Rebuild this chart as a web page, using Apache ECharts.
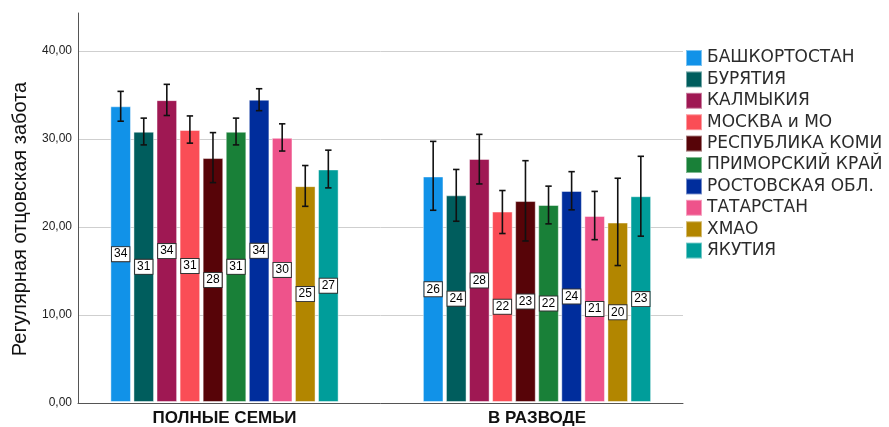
<!DOCTYPE html>
<html>
<head>
<meta charset="utf-8">
<script src="https://cdn.jsdelivr.net/npm/echarts@6/dist/echarts.min.js"></script>
<style>html,body{margin:0;padding:0;background:#fff;}#c{width:889px;height:427px;}</style>
</head>
<body>
<div id="c"></div>
<script>
var categories = ['ПОЛНЫЕ СЕМЬИ', 'В РАЗВОДЕ'];
var regions = ['БАШКОРТОСТАН', 'БУРЯТИЯ', 'КАЛМЫКИЯ', 'МОСКВА и МО', 'РЕСПУБЛИКА КОМИ', 'ПРИМОРСКИЙ КРАЙ', 'РОСТОВСКАЯ ОБЛ.', 'ТАТАРСТАН', 'ХМАО', 'ЯКУТИЯ'];
var colors = ['#1192e8', '#005d5d', '#9f1853', '#fa4d56', '#570408', '#198038', '#002d9c', '#ee538b', '#b28600', '#009d9a'];
var meanFull = [33.7, 30.8, 34.4, 31.0, 27.8, 30.8, 34.45, 30.1, 24.6, 26.5];
var meanDiv  = [25.7, 23.55, 27.7, 21.7, 22.9, 22.45, 24.05, 21.2, 20.45, 23.45];
var lowFull  = [32.0, 29.3, 32.65, 29.5, 25.0, 29.3, 33.2, 28.6, 22.3, 24.4];
var highFull = [35.4, 32.35, 36.2, 32.6, 30.7, 32.35, 35.7, 31.7, 26.95, 28.7];
var lowDiv   = [21.85, 20.6, 24.85, 19.2, 18.35, 20.3, 21.9, 18.5, 15.55, 18.9];
var highDiv  = [29.7, 26.5, 30.5, 24.1, 27.5, 24.6, 26.25, 24.0, 25.5, 28.0];
var yTicks = [0, 10, 20, 30, 40];

var BAR_W = 20.6, GAP = 0.12;
var n = regions.length;
var pitch = BAR_W * (1 + GAP);

var series = [];
regions.forEach(function (name, k) {
  series.push({
    name: name,
    type: 'bar',
    xAxisIndex: 0, yAxisIndex: 0,
    barWidth: BAR_W,
    barGap: (GAP * 100) + '%',
    itemStyle: { color: colors[k], borderColor: 'rgba(255,255,255,0.45)', borderWidth: 1 },
    label: {
      show: true, position: 'inside',
      formatter: function (p) { return String(Math.round(p.value)); },
      backgroundColor: '#ffffff', borderColor: '#333333', borderWidth: 1,
      padding: [1, 2, 1, 2], fontSize: 12, color: '#000',
      fontFamily: 'Liberation Sans, Arial, sans-serif'
    },
    data: [meanFull[k], meanDiv[k]],
    z: 2
  });
});
regions.forEach(function (name, k) {
  series.push({
    name: 'err_' + name,
    type: 'custom',
    xAxisIndex: 0, yAxisIndex: 0,
    z: 5,
    silent: true,
    data: [[0, lowFull[k], highFull[k]], [1, lowDiv[k], highDiv[k]]],
    renderItem: function (params, api) {
      var cat = api.value(0);
      var off = (k - (n - 1) / 2) * pitch;
      var x = api.coord([cat, 0])[0] + off;
      var yl = api.coord([cat, api.value(1)])[1];
      var yh = api.coord([cat, api.value(2)])[1];
      var cw = 3.2;
      var st = { stroke: '#111', lineWidth: 1.6 };
      return {
        type: 'group',
        children: [
          { type: 'line', shape: { x1: x, y1: yl, x2: x, y2: yh }, style: st },
          { type: 'line', shape: { x1: x - cw, y1: yl, x2: x + cw, y2: yl }, style: st },
          { type: 'line', shape: { x1: x - cw, y1: yh, x2: x + cw, y2: yh }, style: st }
        ]
      };
    }
  });
});

var chart = echarts.init(document.getElementById('c'), null, { renderer: 'canvas' });
chart.setOption({
  animation: false,
  backgroundColor: '#ffffff',
  grid: [
    { left: 68.25, right: 195.75, top: 51, bottom: 24 },
    { left: 78, right: 206, top: 51, bottom: 24 },
    { left: 78, right: 206, top: 13, bottom: 24 }
  ],
  xAxis: [
    { gridIndex: 0, type: 'category', data: categories,
      axisLine: { show: false }, axisTick: { show: false },
      axisLabel: { margin: 8, fontSize: 17, fontWeight: 'bold', color: '#111', fontFamily: 'Liberation Sans, Arial, sans-serif' } },
    { gridIndex: 1, type: 'category', data: categories,
      axisLine: { show: true, lineStyle: { color: '#555', width: 1 } },
      axisTick: { show: false }, axisLabel: { show: false } },
    { gridIndex: 2, type: 'category', data: categories, show: false }
  ],
  yAxis: [
    { gridIndex: 0, type: 'value', min: yTicks[0], max: yTicks[yTicks.length - 1], show: false },
    { gridIndex: 1, type: 'value', min: yTicks[0], max: yTicks[yTicks.length - 1], interval: 10,
      axisLine: { show: false }, axisTick: { show: false },
      splitLine: { show: true, lineStyle: { color: '#cfcfcf', width: 1 } },
      axisLabel: { margin: 6, fontSize: 12, color: '#222', fontFamily: 'Liberation Sans, Arial, sans-serif',
        formatter: function (v) { return v.toFixed(2).replace('.', ','); } } },
    { gridIndex: 2, type: 'value', min: 0, max: 1,
      axisLine: { show: true, lineStyle: { color: '#555', width: 1 } },
      axisTick: { show: false }, axisLabel: { show: false }, splitLine: { show: false } }
  ],
  legend: {
    data: regions,
    orient: 'vertical',
    left: 685, top: 49,
    padding: 0,
    itemWidth: 16, itemHeight: 16, itemGap: 3.4,
    icon: 'rect',
    textStyle: { fontSize: 17, color: '#2b2b2b', fontFamily: 'DejaVu Sans, sans-serif' }
  },
  graphic: [{
    type: 'text', x: 20, y: 219, rotation: Math.PI / 2,
    style: { text: 'Регулярная отцовская забота', fontSize: 20, fill: '#111',
      fontFamily: 'Liberation Sans, Arial, sans-serif', align: 'center', verticalAlign: 'middle' }
  }],
  series: series
});
</script>
</body>
</html>
